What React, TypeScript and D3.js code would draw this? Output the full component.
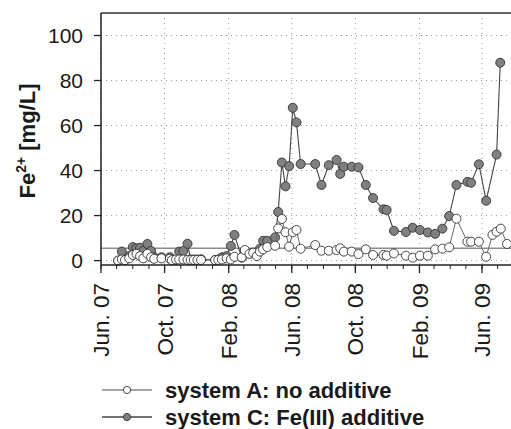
import React from "react";
import * as d3 from "d3";

const datesC = [
  "2007-07-04","2007-07-11","2007-07-17","2007-07-25","2007-08-01","2007-08-08","2007-08-15","2007-08-21","2007-08-29",
  "2007-09-05","2007-09-11","2007-09-25","2007-10-11","2007-10-15","2007-10-23","2007-10-29","2007-11-06","2007-11-14",
  "2007-11-20","2007-11-26","2007-12-03","2007-12-10",
  "2008-01-06","2008-01-12","2008-01-19","2008-01-28","2008-02-05","2008-02-12","2008-02-26","2008-03-03","2008-03-12",
  "2008-03-19","2008-03-26","2008-04-01","2008-04-07","2008-04-15","2008-04-30","2008-05-06","2008-05-13","2008-05-20",
  "2008-05-27","2008-06-03","2008-06-10","2008-06-18","2008-07-16","2008-07-28","2008-08-11","2008-08-26","2008-09-02",
  "2008-09-09","2008-09-24","2008-10-07","2008-10-21","2008-11-04","2008-11-24","2008-11-30","2008-12-14",
  "2009-01-06","2009-01-19","2009-02-02","2009-02-17","2009-03-03","2009-03-17","2009-03-30","2009-04-13","2009-05-04",
  "2009-05-11","2009-05-26","2009-06-09","2009-06-29","2009-07-06",
];
const valuesC = [
  0, 4, 0.3, 2, 6, 5.5, 5.7, 4.3, 7.4,
  4.3, 1.5, 1.5, 1.5, 0.6, 0.3, 4, 4.3, 7.5,
  0.5, 0.5, 0.5, 0.6,
  0.3, 0.5, 1.5, 2, 6.5, 11.4, 1.3, 3.2, 3.2,
  3.5, 3.2, 5.3, 8.8, 8.8, 10.3, 21.6, 43.6, 33,
  42, 67.9, 61.4, 42.9, 42.9, 33.6, 42.4, 44.7, 38.5,
  41.7, 41.7, 41.4, 33.6, 27.8, 22.8, 22.5, 13.2,
  12.7, 14.6, 13.6, 12.5, 11.9, 14.2, 19.8, 33.6, 35,
  34.6, 42.8, 26.6, 47.1, 87.9,
];

const datesA = [
  "2007-07-04","2007-07-11","2007-07-17","2007-07-25","2007-08-01","2007-08-08","2007-08-15","2007-08-21","2007-08-29",
  "2007-09-05","2007-09-11","2007-09-25","2007-10-11","2007-10-15","2007-10-23","2007-10-29","2007-11-06","2007-11-14",
  "2007-11-20","2007-11-26","2007-12-03","2007-12-10",
  "2008-01-06","2008-01-12","2008-01-19","2008-01-28","2008-02-05","2008-02-12","2008-02-26","2008-03-03","2008-03-12",
  "2008-03-19","2008-03-26","2008-04-01","2008-04-07","2008-04-15","2008-04-30","2008-05-06","2008-05-13","2008-05-20",
  "2008-05-27","2008-06-03","2008-06-10","2008-06-18","2008-07-16","2008-07-28","2008-08-11","2008-08-26","2008-09-02",
  "2008-09-09","2008-09-24","2008-10-07","2008-10-21","2008-11-04","2008-11-24","2008-11-30","2008-12-14",
  "2009-01-06","2009-01-19","2009-02-02","2009-02-17","2009-03-03","2009-03-17","2009-03-30","2009-04-13","2009-05-04",
  "2009-05-11","2009-05-26","2009-06-09","2009-06-21","2009-06-29","2009-07-07","2009-07-19",
];
const valuesA = [
  0, 0.5, 0.2, 1, 2.5, 3, 2, 1, 3,
  1.5, 0.8, 1, 0.8, 0.2, 0.5, 0.5, 0.5, 0.3,
  0.3, 0.3, 0.3, 0.3,
  0.2, 0.3, 0.5, 1, 0.5, 1.7, 1.5, 4.7, 3,
  3.5, 2, 4, 5, 6, 6.6, 14.3, 18.5, 12.6,
  6.2, 12.6, 13.6, 5.3, 6.9, 4.4, 4.4, 4.7, 5.5,
  4, 4, 2.9, 5, 2.5, 2.5, 2.2, 3.2,
  2.2, 1.3, 2.2, 2.2, 5, 5.3, 5.9, 18.6, 8.4,
  8.4, 8.4, 1.7, 11.4, 12.8, 14.2, 7.4,
];

const yTicks = [0, 20, 40, 60, 80, 100];
const xTickDates = ["2007-06-01","2007-10-01","2008-02-01","2008-06-01","2008-10-01","2009-02-01","2009-06-01"];
const xTickLabels = ["Jun. 07","Oct. 07","Feb. 08","Jun. 08","Oct. 08","Feb. 09","Jun. 09"];
const thresholdValue = 5.5;
const legendLabels = ["system A: no additive", "system C: Fe(III) additive"];

const parse = d3.utcParse("%Y-%m-%d");

export default function App() {
  const W = 511, H = 429;
  const left = 101, top = 13, bottom = 265, right = 511;
  const x = d3.scaleUtc().domain([parse("2007-06-01")!, parse("2009-06-01")!]).range([101, 482]);
  const y = d3.scaleLinear().domain([0, 100]).range([260.6, 35.5]);

  const dataA = datesA.map((d, i) => ({ x: x(parse(d)!), y: y(valuesA[i]) }));
  const dataC = datesC.map((d, i) => ({ x: x(parse(d)!), y: y(valuesC[i]) }));
  const line = d3.line<{ x: number; y: number }>().x(d => d.x).y(d => d.y);

  const minor = d3.utcMonth.range(parse("2007-06-01")!, parse("2009-09-01")!).map(d => x(d)).filter(v => v >= left && v <= right);
  const font = "Liberation Sans, Arial, Helvetica, sans-serif";
  const r = 4.5;

  return (
    <svg width={W} height={H} style={{ position: "absolute", left: 0, top: 0, background: "#fff" }} fontFamily={font}>
      <defs>
        <clipPath id="plot">
          <rect x={left} y={top} width={right - left} height={bottom - top + 6} />
        </clipPath>
      </defs>
      {yTicks.map(t => (
        <line key={"gy" + t} x1={left} x2={right} y1={y(t)} y2={y(t)} stroke="#999" strokeWidth={1} strokeDasharray="1,4" />
      ))}
      {xTickDates.map(t => (
        <line key={"gx" + t} x1={x(parse(t)!)} x2={x(parse(t)!)} y1={top} y2={bottom} stroke="#999" strokeWidth={1} strokeDasharray="1,4" />
      ))}
      <line x1={left} x2={right} y1={y(thresholdValue)} y2={y(thresholdValue)} stroke="#8c8c8c" strokeWidth={1.6} />
      <g clipPath="url(#plot)">
        <path d={line(dataC) ?? ""} fill="none" stroke="#444" strokeWidth={1.1} />
        {dataC.map((d, i) => (
          <circle key={"c" + i} cx={d.x} cy={d.y} r={r} fill="#808080" stroke="#333" strokeWidth={0.9} />
        ))}
        <path d={line(dataA) ?? ""} fill="none" stroke="#666" strokeWidth={1} />
        {dataA.map((d, i) => (
          <circle key={"a" + i} cx={d.x} cy={d.y} r={r} fill="#fff" stroke="#333" strokeWidth={0.9} />
        ))}
      </g>
      <line x1={left} x2={right} y1={top} y2={top} stroke="#333" strokeWidth={1.5} />
      <line x1={left} x2={left} y1={top} y2={bottom} stroke="#222" strokeWidth={1.5} />
      <line x1={left} x2={right} y1={bottom} y2={bottom} stroke="#222" strokeWidth={1.5} />
      {yTicks.map(t => (
        <g key={"yt" + t}>
          <line x1={left - 7} x2={left} y1={y(t)} y2={y(t)} stroke="#222" strokeWidth={1.3} />
          <text x={83} y={y(t)} dy="0.36em" textAnchor="end" fontSize={21} fill="#1a1a1a">{t}</text>
        </g>
      ))}
      {minor.map((m, i) => (
        <line key={"mn" + i} x1={m} x2={m} y1={bottom} y2={bottom + 4} stroke="#222" strokeWidth={1} />
      ))}
      {xTickDates.map((t, i) => {
        const px = x(parse(t)!);
        return (
          <g key={"xt" + t}>
            <line x1={px} x2={px} y1={bottom} y2={bottom + 8} stroke="#222" strokeWidth={1.3} />
            <text transform={`translate(${px},283) rotate(-90)`} textAnchor="end" dy="0.36em" fontSize={22.5} fill="#1a1a1a">{xTickLabels[i]}</text>
          </g>
        );
      })}
      <text transform="translate(35,141) rotate(-90)" textAnchor="middle" fontSize={22} fontWeight="bold" fill="#1a1a1a">
        Fe<tspan fontSize={14} dy={-9}>2+</tspan><tspan dy={9}> [mg/L]</tspan>
      </text>
      {legendLabels.map((l, i) => {
        const ly = 390 + i * 27;
        return (
          <g key={"lg" + i}>
            <line x1={102} x2={152} y1={ly} y2={ly} stroke={i === 0 ? "#888" : "#444"} strokeWidth={1.3} />
            <circle cx={127} cy={ly} r={3.6} fill={i === 0 ? "#fff" : "#808080"} stroke="#333" strokeWidth={0.9} />
            <text x={165} y={ly} dy="0.36em" fontSize={22} fontWeight="bold" fill="#1a1a1a">{l}</text>
          </g>
        );
      })}
    </svg>
  );
}
